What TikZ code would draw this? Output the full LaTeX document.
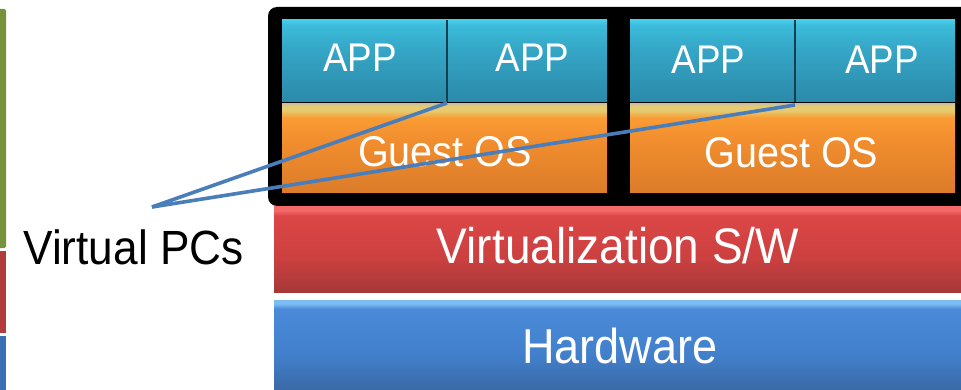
\documentclass[tikz,border=0pt]{standalone}
\usepackage{fontspec}
\setmainfont[FakeStretch=0.92]{Liberation Sans}
\usetikzlibrary{positioning}

% palette
\definecolor{apphi}{HTML}{48CDEA}
\definecolor{apptop}{HTML}{3CBCDB}
\definecolor{appmid}{HTML}{35A7C7}
\definecolor{appbot}{HTML}{2C8CAC}
\definecolor{osband}{HTML}{E6CB70}
\definecolor{osline}{HTML}{C8C0A8}
\definecolor{ostop}{HTML}{FA9C34}
\definecolor{osmid}{HTML}{F28E2E}
\definecolor{osbot}{HTML}{DC7C2A}
\definecolor{redhi}{HTML}{F46A6A}
\definecolor{redtop}{HTML}{DC4646}
\definecolor{redmid}{HTML}{CC4040}
\definecolor{redbot}{HTML}{A63838}
\definecolor{bluehi}{HTML}{7CBDF4}
\definecolor{bluetop}{HTML}{4A8AD8}
\definecolor{bluemid}{HTML}{4280CC}
\definecolor{bluebot}{HTML}{3A69A6}
\definecolor{pointerblue}{HTML}{4A7EBB}
\definecolor{stripgreen}{HTML}{76923C}
\definecolor{stripred}{HTML}{B23C3C}
\definecolor{stripblue}{HTML}{3B6EB2}

% vertical shadings: the box spans 25bp (bottom) to 75bp (top)
\pgfdeclareverticalshading{appshade}{100bp}{color(0bp)=(appbot); color(25bp)=(appbot); color(28bp)=(appbot); color(58bp)=(appmid); color(72bp)=(apptop); color(75bp)=(apphi); color(100bp)=(apphi)}
\pgfdeclareverticalshading{osshade}{100bp}{color(0bp)=(osbot); color(25bp)=(osbot); color(55bp)=(osmid); color(67bp)=(ostop); color(71bp)=(osband); color(73.5bp)=(osband); color(75bp)=(osline); color(100bp)=(osline)}
\pgfdeclareverticalshading{redshade}{100bp}{color(0bp)=(redbot); color(25bp)=(redbot); color(45bp)=(redmid); color(70bp)=(redtop); color(73bp)=(redhi); color(75bp)=(redhi); color(100bp)=(redhi)}
\pgfdeclareverticalshading{blueshade}{100bp}{color(0bp)=(bluebot); color(25bp)=(bluebot); color(45bp)=(bluemid); color(70bp)=(bluetop); color(73bp)=(bluehi); color(75bp)=(bluehi); color(100bp)=(bluehi)}

\tikzset{
  layer/.style={shade, inner sep=0pt, outer sep=0pt, draw=none},
  appbox/.style={layer, shading=appshade, minimum width=#1, minimum height=82pt},
  osbox/.style={layer, shading=osshade, minimum width=325pt, minimum height=89pt},
  virtbox/.style={layer, shading=redshade, minimum width=687pt, minimum height=85pt},
  hwbox/.style={layer, shading=blueshade, minimum width=687pt, minimum height=90pt},
  lbl/.style={anchor=base, text=white, inner sep=0pt},
  pointer/.style={draw=pointerblue, line width=3.6pt},
}

\begin{document}
\begin{tikzpicture}[x=1pt, y=-1pt]
\clip (0,0) rectangle (961,390);
\fill[white] (0,0) rectangle (961,390);

% coloured strips at the left border
\fill[stripgreen, rounded corners=2pt] (-4,9) rectangle (6,248);
\fill[stripred] (-4,251) rectangle (6,333);
\fill[stripblue] (-4,336) rectangle (6,394);

% black frame holding the two virtual machines
\node[fill=black, rounded corners=9pt, inner sep=0pt, outer sep=0pt,
      minimum width=712pt, minimum height=199pt] (vmframe) at (624,106.5) {};

% virtual machine 1
\node[appbox=165pt] (app1) at (364.5,61) {};
\node[appbox=160pt] (app2) at (527,61) {};
\node[osbox] (os1) at (444.5,148) {};
% virtual machine 2
\node[appbox=165pt] (app3) at (712.5,61) {};
\node[appbox=160pt] (app4) at (875,61) {};
\node[osbox] (os2) at (792.5,148) {};

% separators between the application boxes
\draw[black!55!appbot, line width=1.2pt] (app1.north east) -- (app1.south east);
\draw[black!55!appbot, line width=1.2pt] (app3.north east) -- (app3.south east);

% host layers
\node[virtbox] (virt) at (617.5,249.5) {};
\node[hwbox] (hw) at (617.5,345) {};

% labels
\node[lbl, font=\fontsize{40}{40}\selectfont] (tapp1) at (360,72) {APP};
\node[lbl, font=\fontsize{40}{40}\selectfont] (tapp2) at (532.5,72) {APP};
\node[lbl, font=\fontsize{40}{40}\selectfont] (tapp3) at (708.5,74) {APP};
\node[lbl, font=\fontsize{40}{40}\selectfont] (tapp4) at (882,74) {APP};
\node[lbl, font=\fontsize{43}{43}\selectfont] (tos1) at (445,167) {Guest OS};
\node[lbl, font=\fontsize{43}{43}\selectfont] (tos2) at (791.5,168) {Guest OS};
\node[lbl, font=\fontsize{50}{50}\selectfont] (tvirt) at (618,263) {Virtualization S/W};
\node[lbl, font=\fontsize{49}{49}\selectfont] (thw) at (620,363) {Hardware};
\node[lbl, text=black, font=\fontsize{48}{48}\selectfont] (vpcs) at (133.5,265) {Virtual PCs};

% pointers from the caption to the virtual machines
\coordinate (tip) at (152,207);
\draw[pointer] (tip) -- ([yshift=-1pt]app1.south east);
\draw[pointer] (tip) -- ([yshift=-3pt]app3.south east);
\end{tikzpicture}
\end{document}
